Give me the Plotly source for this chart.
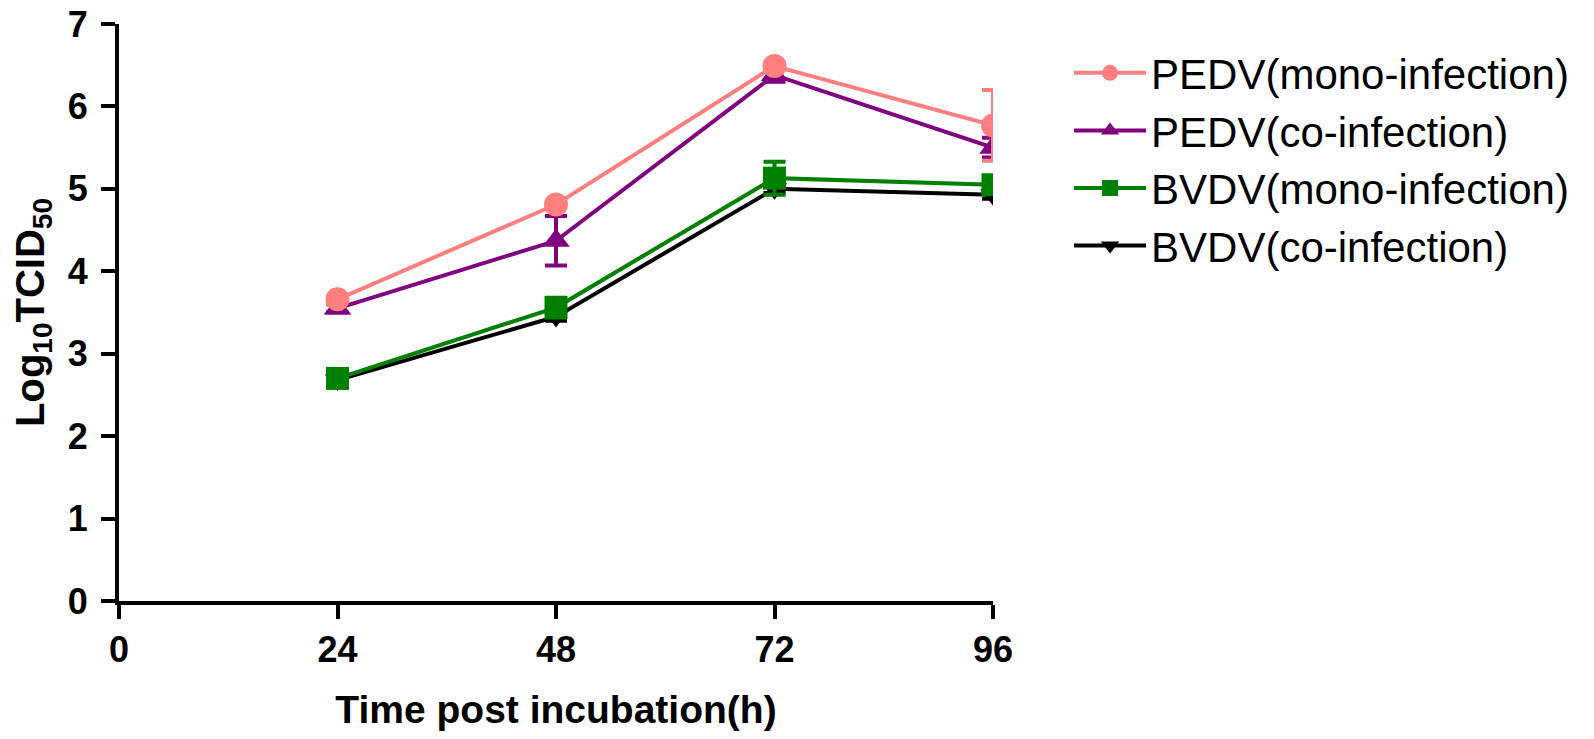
import plotly.graph_objects as go

hours = [24, 48, 72, 96]
series_names = ["PEDV(mono-infection)", "PEDV(co-infection)", "BVDV(mono-infection)", "BVDV(co-infection)"]
pedv_mono = [3.66, 4.81, 6.49, 5.77]
pedv_mono_err = [0.03, 0.04, 0.05, 0.43]
pedv_co = [3.55, 4.37, 6.38, 5.5]
pedv_co_err = [0.05, 0.3, 0.08, 0.12]
bvdv_mono = [2.7, 3.56, 5.13, 5.05]
bvdv_mono_err = [0.03, 0.12, 0.2, 0.05]
bvdv_co = [2.68, 3.45, 5.0, 4.93]
bvdv_co_err = [0.02, 0.05, 0.05, 0.05]

colors = ["#FF7F7F", "#800080", "#008000", "#000000"]
symbols = ["circle", "triangle-up", "square", "triangle-down"]
marker_sizes = [24, 24, 23, 22]
values = [pedv_mono, pedv_co, bvdv_mono, bvdv_co]
errors = [pedv_mono_err, pedv_co_err, bvdv_mono_err, bvdv_co_err]

FONT = "Liberation Sans, Arial, sans-serif"

fig = go.Figure()
# draw in reverse order so PEDV mono ends up on top
for i in [3, 2, 1, 0]:
    fig.add_trace(go.Scatter(
        x=hours, y=values[i], name=series_names[i], mode="lines+markers",
        line=dict(color=colors[i], width=4),
        marker=dict(symbol=symbols[i], size=marker_sizes[i], color=colors[i]),
        error_y=dict(type="data", array=errors[i], color=colors[i], thickness=4, width=11),
        legendrank=i, legendgroup=f"g{i}",
    ))

axis_font = dict(family=FONT, size=36, color="black", weight="bold")
fig.update_layout(
    width=1578, height=723,
    margin=dict(l=111, r=593, t=16, b=130),
    plot_bgcolor="white", paper_bgcolor="white",
    font=dict(family=FONT, color="black"),
    legend=dict(x=1.087, y=0.974, xanchor="left", yanchor="top",
                font=dict(family=FONT, size=42, color="black"),
                tracegroupgap=5, itemwidth=72,
                traceorder="normal", bgcolor="rgba(0,0,0,0)"),
    xaxis=dict(range=[0, 96], tickvals=[0, 24, 48, 72, 96], showline=True, linecolor="black",
               linewidth=4, ticks="outside", ticklen=14, tickwidth=4, tickcolor="black",
               showgrid=False, zeroline=False, tickfont=axis_font, ticklabelstandoff=0,
               automargin=False, ticklabeloverflow="allow",
               title=dict(text="Time post incubation(h)", standoff=46,
                          font=dict(family=FONT, size=39, color="black", weight="bold"))),
    yaxis=dict(range=[0, 7], tickvals=list(range(8)), showline=True, linecolor="black",
               linewidth=4, ticks="outside", ticklen=14, tickwidth=4, tickcolor="black",
               showgrid=False, zeroline=False, tickfont=axis_font, ticklabelstandoff=6,
               automargin=False, ticklabeloverflow="allow",
               title=dict(text="Log<sub>10</sub>TCID<sub>50</sub>", standoff=40,
                          font=dict(family=FONT, size=40, color="black", weight="bold"))),
)
fig.write_html("out.html")
